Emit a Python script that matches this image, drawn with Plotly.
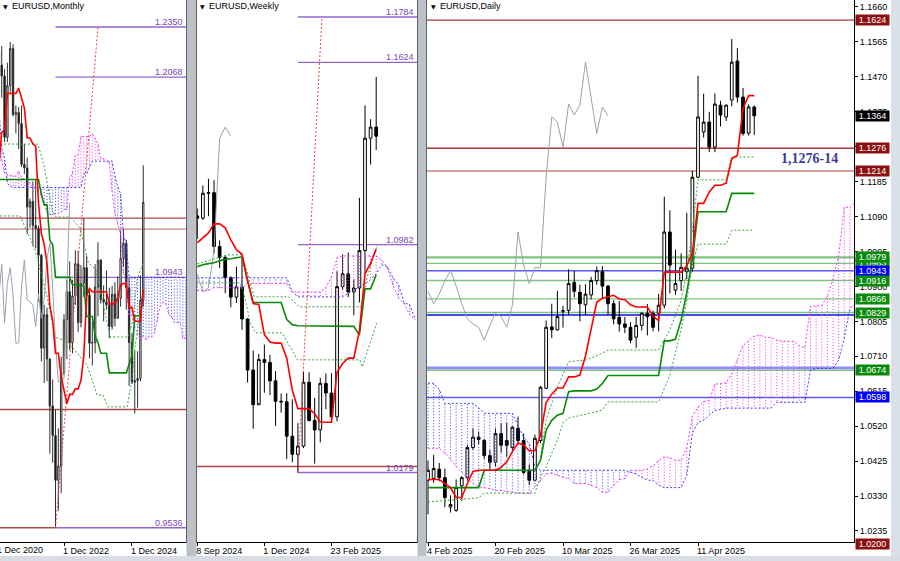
import plotly.graph_objects as go

FIG_W, FIG_H = 900, 561
PLOT_BOTTOM_PX = 542
FONT = "Liberation Sans"

# ---------------- MONTHLY (bar 0 = Jan 2021) ----------------
m_open = [1.2215,1.2136,1.2074,1.1730,1.2020,1.2229,1.1858,1.1870,1.1807,1.1578,1.1558,1.1338,
          1.1370,1.1235,1.1218,1.1067,1.0545,1.0733,1.0484,1.0220,1.0054,0.9802,0.9882,1.0405,
          1.0705,1.0863,1.0576,1.0839,1.1019,1.0689,1.0909,1.0997,1.0843,1.0573,1.0575,1.0888,
          1.1039,1.0818,1.0805,1.0789,1.0666,1.0848,1.0713,1.0825,1.1048,1.1135,1.0884,1.0577,
          1.0354,1.0362,1.0375,1.0815]
m_high = [1.2350,1.2243,1.2113,1.2150,1.2266,1.2254,1.1909,1.1900,1.1909,1.1692,1.1616,1.1386,
          1.1483,1.1495,1.1233,1.1076,1.0787,1.0773,1.0487,1.0369,1.0198,1.0094,1.0497,1.0736,
          1.0929,1.1033,1.0930,1.1095,1.1092,1.1012,1.1276,1.1065,1.0882,1.0695,1.1017,1.1140,
          1.1046,1.0898,1.0981,1.0885,1.0895,1.0916,1.0948,1.1202,1.1214,1.1154,1.0937,1.0630,
          1.0533,1.0528,1.0954,1.1573]
m_low = [1.2055,1.1952,1.1704,1.1704,1.1986,1.1847,1.1752,1.1664,1.1563,1.1524,1.1186,1.1222,
         1.1121,1.1106,1.0806,1.0471,1.0349,1.0359,0.9952,0.9901,0.9536,0.9632,0.9730,1.0393,
         1.0483,1.0533,1.0516,1.0788,1.0635,1.0662,1.0833,1.0766,1.0488,1.0448,1.0516,1.0724,
         1.0795,1.0695,1.0762,1.0601,1.0650,1.0668,1.0710,1.0778,1.1001,1.0761,1.0333,1.0343,
         1.0178,1.0210,1.0359,1.0778]
m_close = [1.2136,1.2074,1.1730,1.2020,1.2229,1.1858,1.1870,1.1807,1.1578,1.1558,1.1338,1.1370,
           1.1235,1.1218,1.1067,1.0545,1.0733,1.0484,1.0220,1.0054,0.9802,0.9882,1.0405,1.0705,
           1.0863,1.0576,1.0839,1.1019,1.0689,1.0909,1.0997,1.0843,1.0573,1.0575,1.0888,1.1039,
           1.0818,1.0805,1.0789,1.0666,1.0848,1.0713,1.0825,1.1048,1.1135,1.0884,1.0577,1.0354,
           1.0362,1.0375,1.0815,1.1364]
m_tenkan = [1.1563,1.1759,1.1768,1.1977,1.1977,1.1977,1.1977,1.2007,1.1957,1.1895,1.1726,1.1726,
            1.1694,1.1680,1.1358,1.1190,1.1129,1.1021,1.0784,1.0698,1.0516,1.0516,1.0385,1.0306,
            1.0233,1.0285,1.0285,1.0316,1.0316,1.0364,1.0503,1.0835,1.0880,1.0862,1.0862,1.0862,
            1.0862,1.0862,1.0862,1.0794,1.0794,1.0794,1.0828,1.0902,1.0908,1.0908,1.0774,1.0774,
            1.0696,1.0696,1.0696,1.0876]
m_kijun = [1.1493]*15 + [1.1411,1.1350,1.1350,1.1151,1.1126] + [1.0943]*6 + [1.0901]*4 + \
          [1.0895] + [1.0723]*3 + [1.0614,1.0576] + [1.0516]*3 + [1.0406]*7 + \
          [1.0454,1.0503,1.0727,1.0727,1.0727,1.0876]
m_span_a = [1.1647,1.1600,1.1530,1.1520,1.1515,1.1512,1.1512,1.1540,1.1500,1.1495,1.1494,1.1470,
            1.1450,1.1440,1.1431,1.1400,1.1350,1.1310,1.1295,1.1295,1.1300,1.1301,1.1310,1.1324,
            1.1324,1.1496,
            1.1528,1.1626,1.1631,1.1735,1.1735,1.1735,1.1735,1.1750,1.1725,1.1694,
            1.1610,1.1610,1.1594,1.1587,1.1426,1.1301,1.1240,1.1186,1.0968,1.0912,
            1.0730,1.0730,1.0664,1.0625,1.0588,1.0614,1.0593,1.0609,1.0609,1.0633,
            1.0699,1.0779,1.0802,1.0793,1.0738,1.0719,1.0689,1.0689,1.0689,1.0600,1.0600]
m_span_b = [1.1892,1.1668,1.1614,1.1470,1.1455] + [1.1448]*25 + [1.1525,1.1525,1.1562] + \
           [1.1596]*8 + [1.1513,1.1452,1.1413,1.1183,1.1126] + [1.0943]*21
m_green1_x = [0.4,13.8,15.9,18.8,20.2,25.1,28.7,31.5,34.3,39.3,45.6,47.4,48.8,50.9]
m_green1_y = [1.1692,1.1692,1.1574,1.1321,1.1282,1.1282,1.1220,1.1029,1.0984,1.0608,1.0608,1.0704,1.0928,1.1024]
m_green2_x = [0.4,7.5,12.8,17.3,19.8,24.4,31.1,34.7,36.8,38.5,45.3,47.0,48.1,49.1,50.6]
m_green2_y = [1.1288,1.1288,1.1097,1.0816,1.0608,1.0580,1.0451,1.0282,1.0282,1.0215,1.0215,1.0367,1.0552,1.0648,1.0816]
m_target_x = [20, 35]
m_target_y = [0.9536, 1.2350]
m_fibo_levels = [1.2350, 1.2068, 1.0943, 0.9536]
m_fibo_labels = ["1.2350", "1.2068", "1.0943", "0.9536"]
m_fibo_start = 20
m_red_levels = [1.1276, 1.1214, 1.0200]
m_tick_vals = [23, 47]
m_tick_text = ["1 Dec 2022", "1 Dec 2024"]
m_first_tick_text = "1 Dec 2020"

# ---------------- WEEKLY (bar 0 = week of 8 Sep 2024) ----------------
w_open = [1.1083,1.1075,1.1163,1.1165,1.0975,1.0937,1.0866,1.0797,1.0833,1.0720,1.0540,1.0418,
          1.0577,1.0567,1.0502,1.0430,1.0428,1.0307,1.0243,1.0272,1.0497,1.0362,1.0329,1.0493,
          1.0459,1.0375,1.0834,1.0879,1.0815,1.0829,1.0961,1.1357,1.1396]
w_high = [1.1109,1.1190,1.1214,1.1209,1.0997,1.0945,1.0870,1.0905,1.0937,1.0722,1.0609,1.0597,
          1.0630,1.0594,1.0536,1.0457,1.0458,1.0437,1.0353,1.0533,1.0532,1.0442,1.0513,1.0528,
          1.0529,1.0888,1.0947,1.0954,1.0860,1.1147,1.1473,1.1424,1.1573]
w_low = [1.1002,1.1069,1.1082,1.0951,1.0900,1.0811,1.0761,1.0777,1.0682,1.0496,1.0333,1.0424,
         1.0460,1.0452,1.0343,1.0390,1.0226,1.0215,1.0179,1.0265,1.0359,1.0210,1.0285,1.0402,
         1.0360,1.0359,1.0823,1.0797,1.0733,1.0778,1.0881,1.1264,1.1315]
w_close = [1.1075,1.1163,1.1165,1.0975,1.0937,1.0866,1.0797,1.0833,1.0720,1.0540,1.0418,1.0577,
           1.0567,1.0502,1.0430,1.0428,1.0307,1.0243,1.0272,1.0497,1.0362,1.0329,1.0493,1.0459,
           1.0375,1.0834,1.0879,1.0815,1.0829,1.0961,1.1357,1.1396,1.1364]
w_tenkan = [1.0988,1.1006,1.1023,1.1055,1.1055,1.1041,1.0999,1.0964,1.0948,1.0855,1.0774,1.0771,
            1.0665,1.0639,1.0635,1.0635,1.0582,1.0469,1.0404,1.0404,1.0404,1.0386,1.0357,1.0356,
            1.0356,1.0533,1.0563,1.0582,1.0582,1.0679,1.0879,1.0917,1.0966]
w_kijun = [1.0904,1.0911,1.0915,1.0918,1.0925,1.0930,1.0932,1.0935,1.0939,1.0855] + [1.0778]*6 + \
          [1.0718,1.0700] + [1.0696]*10 + [1.0694,1.0663,1.0826,1.0826,1.0876]
w_span_a = [1.0820]*3 + [1.0830]*6 + [1.0845]*8 + [1.0815]*6 + [1.0830,1.0869,1.0935] + \
           [1.0942]*7 + [1.0928,1.0900,1.0840,1.0795,1.0773,1.0735,1.0717]
w_span_b = [1.0865]*17 + [1.0816] + [1.0798]*9 + [1.0810,1.0823,1.0833,1.0845,1.0858,1.0880,
           1.0911,1.0904,1.0865,1.0840,1.0777,1.0770,1.0717]
w_green1_x = [0,5.5,8.0,9.1,10.2,16.4,18.2,29.3,30.4,32.2]
w_green1_y = [1.0914,1.0946,1.0946,1.0869,1.0798,1.0798,1.0763,1.0763,1.0869,1.0981]
w_green2_x = [0,7.7,8.6,9.5,10.4,15.2,17.9,29.1,29.5,32.1]
w_green2_y = [1.0847,1.0847,1.0787,1.0706,1.0671,1.0671,1.0576,1.0576,1.0551,1.0706]
w_target_x = [18, 22.3]
w_target_y = [1.0179, 1.1784]
w_fibo_levels = [1.1784, 1.1624, 1.0982, 1.0179]
w_fibo_labels = ["1.1784", "1.1624", "1.0982", "1.0179"]
w_fibo_start = 18
w_red_levels = [1.0200]
w_tick_vals = [0, 12, 24]
w_tick_text = ["8 Sep 2024", "1 Dec 2024", "23 Feb 2025"]

# ---------------- DAILY (bar 0 = 4 Feb 2025) ----------------
d_open = [1.0373,1.0378,1.0403,1.0380,1.0300,1.0291,1.0358,1.0380,1.0462,1.0490,1.0481,1.0440,
          1.0422,1.0500,1.0481,1.0462,1.0514,1.0481,1.0400,1.0373,1.0481,1.0623,1.0790,1.0782,
          1.0834,1.0835,1.0911,1.0884,1.0850,1.0877,1.0916,1.0940,1.0901,1.0853,1.0816,1.0798,
          1.0789,1.0762,1.0794,1.0827,1.0827,1.0827,1.0849,1.1048,1.0890,1.0916,1.0940,1.0950,
          1.1197,1.1320,1.1347,1.1279,1.1393,1.1361,1.1407,1.1513,1.1415,1.1317,1.1388]
d_high = [1.0427,1.0442,1.0420,1.0405,1.0332,1.0375,1.0384,1.0469,1.0514,1.0505,1.0486,1.0455,
          1.0514,1.0528,1.0529,1.0520,1.0546,1.0500,1.0416,1.0497,1.0629,1.0807,1.0853,1.0888,
          1.0847,1.0947,1.0942,1.0905,1.0906,1.0926,1.0954,1.0955,1.0904,1.0862,1.0860,1.0817,
          1.0803,1.0817,1.0830,1.0852,1.0834,1.0880,1.1144,1.1107,1.1000,1.0990,1.1100,1.1214,
          1.1473,1.1424,1.1375,1.1425,1.1405,1.1395,1.1573,1.1548,1.1440,1.1395,1.1392]
d_low = [1.0280,1.0366,1.0370,1.0300,1.0285,1.0287,1.0317,1.0372,1.0456,1.0470,1.0431,1.0402,
         1.0410,1.0448,1.0437,1.0454,1.0475,1.0390,1.0360,1.0370,1.0474,1.0621,1.0760,1.0780,
         1.0788,1.0823,1.0870,1.0805,1.0822,1.0865,1.0905,1.0868,1.0823,1.0797,1.0777,1.0773,
         1.0745,1.0733,1.0780,1.0767,1.0778,1.0778,1.0840,1.0881,1.0877,1.0888,1.0920,1.0940,
         1.1194,1.1305,1.1265,1.1265,1.1335,1.1350,1.1390,1.1400,1.1310,1.1310,1.1312]
d_close = [1.0400,1.0405,1.0380,1.0326,1.0307,1.0353,1.0380,1.0462,1.0490,1.0484,1.0440,1.0422,
           1.0500,1.0468,1.0468,1.0517,1.0481,1.0394,1.0373,1.0487,1.0626,1.0789,1.0782,1.0818,
           1.0833,1.0908,1.0887,1.0853,1.0879,1.0916,1.0943,1.0901,1.0853,1.0812,1.0798,1.0789,
           1.0754,1.0794,1.0827,1.0818,1.0789,1.0849,1.1048,1.0958,1.0908,1.0952,1.0950,1.1197,
           1.1361,1.1347,1.1279,1.1396,1.1366,1.1393,1.1510,1.1415,1.1316,1.1388,1.1364]
d_tenkan = [1.0375,1.0375,1.0375,1.0364,1.0353,1.0326,1.0326,1.0364,1.0397,1.0400,1.0400,1.0400,
            1.0400,1.0408,1.0423,1.0451,1.0474,1.0468,1.0453,1.0453,1.0495,1.0584,1.0607,1.0624,
            1.0624,1.0654,1.0654,1.0659,1.0711,1.0784,1.0857,1.0868,1.0872,1.0876,1.0866,1.0864,
            1.0850,1.0844,1.0844,1.0844,1.0819,1.0807,1.0939,1.0939,1.0939,1.0939,1.0956,1.0991,
            1.1126,1.1126,1.1157,1.1175,1.1175,1.1181,1.1247,1.1257,1.1384,1.1419,1.1419]
d_kijun = [1.0353]*10 + [1.0400]*10 + [1.0427,1.0509,1.0536,1.0550,1.0555,1.0614] + [1.0616]*4 + \
          [1.0621,1.0636] + [1.0658]*10 + [1.0752,1.0752,1.0757,1.0809,1.0883,1.0974] + \
          [1.1103]*6 + [1.1153]*5
d_span_a = [1.0460,1.0460,1.0460,1.0446,1.0430,1.0410,1.0395,1.0381,1.0364,1.0355,1.0353,1.0350,
            1.0345,1.0345,1.0342,1.0340,1.0337,1.0337,1.0337,1.0355,1.0370,1.0390,1.0392,1.0386,
            1.0381,1.0378,
            1.0364,1.0364,1.0364,1.0359,1.0353,1.0340,1.0340,1.0359,1.0375,1.0377,
            1.0400,1.0400,1.0400,1.0404,1.0412,1.0426,1.0437,1.0434,1.0427,1.0427,
            1.0461,1.0547,1.0572,1.0587,1.0590,1.0634,1.0635,1.0638,1.0664,1.0700,
            1.0739,1.0752,1.0765,1.0767,1.0762,1.0761,1.0754,1.0751,1.0751,1.0751,
            1.0739,1.0733,1.0846,1.0846,1.0848,1.0874,1.0920,1.0983,1.1115,1.1115,1.1130]
d_span_b = [1.0637,1.0637,1.0620] + [1.0582]*6 + [1.0570] + [1.0555]*6 + [1.0522,1.0490,1.0473,1.0410] + \
           [1.0400]*16 + [1.0395,1.0390,1.0381,1.0373,1.0373,1.0360] + [1.0353]*4 + \
           [1.0386,1.0501,1.0530,1.0536,1.0550,1.0563,1.0565] + [1.0569]*9 + [1.0585]*6 + \
           [1.0672] + [1.0677]*4 + [1.0700,1.0760,1.0840,1.0854]
d_green1_x = [20,21,23,25,28,29,31,32,41,43,45,46,47,48,53,54,58]
d_green1_y = [1.0436,1.0537,1.0627,1.0695,1.0700,1.0705,1.0719,1.0727,1.0727,1.0782,1.0863,1.0939,
              1.1054,1.1190,1.1190,1.1252,1.1252]
d_green2_x = [0,9,10,19,20,21,22,23,24,25,29,31,32,41,43,45,46,47,48,53,54,58]
d_green2_y = [1.0314,1.0325,1.0338,1.0338,1.0382,1.0409,1.0447,1.0482,1.0529,1.0542,1.0556,1.0564,
              1.0586,1.0586,1.0659,1.0782,1.0863,1.0958,1.1015,1.1015,1.1053,1.1053]
d_tick_vals = [0, 12, 24, 36, 48]
d_tick_text = ["4 Feb 2025", "20 Feb 2025", "10 Mar 2025", "26 Mar 2025", "11 Apr 2025"]
d_price_ticks = [1.0235,1.0330,1.0425,1.0520,1.0615,1.0710,1.0805,1.0900,1.0995,1.1090,
                 1.1185,1.1280,1.1375,1.1470,1.1565,1.1660]
d_price_text = ["1.0235","1.0330","1.0425","1.0520","1.0615","1.0710","1.0805","1.0900","1.0995",
                "1.1090","1.1185","1.1280","1.1375","1.1470","1.1565","1.1660"]
# horizontal levels: value, colour, width
d_level_values = [1.1624, 1.1276, 1.1214, 1.0979, 1.0963, 1.0943, 1.0916, 1.0866, 1.0829, 1.0822,
                  1.0678, 1.0672, 1.0598]
d_level_colors = ["#a33a3a", "#a33a3a", "#c98080", "#7cc47c", "#7cc47c", "#5a5aee", "#7cc47c",
                  "#7cc47c", "#7cc47c", "#4a4af0", "#8e8ef6", "#7cc47c", "#5a5af0"]
d_level_widths = [1.2, 1.5, 1.5, 2.2, 1.2, 1.5, 1.5, 1.2, 1.5, 2, 3, 1.2, 1.5]
# price tags on the right axis
d_tag_values = [1.0963, 1.0979, 1.0943, 1.0916, 1.0866, 1.0829, 1.0674, 1.0598, 1.1624, 1.1364,
                1.1276, 1.1214, 1.0200]
d_tag_text = ["1.0963", "1.0979", "1.0943", "1.0916", "1.0866", "1.0829", "1.0674", "1.0598",
              "1.1624", "1.1364", "1.1276", "1.1214", "1.0200"]
d_tag_colors = ["#0a8a0a", "#0a8a0a", "#0000ff", "#0a8a0a", "#0a8a0a", "#0a8a0a", "#0a8a0a",
                "#0000ff", "#8b1010", "#000000", "#8b1010", "#8b1010", "#8b1010"]
d_zone_text = "1,1276-14"
d_zone_price = 1.1247

# ---------------- layout geometry ----------------
def fx(p):
    return p / FIG_W

def fy(p):
    return 1 - p / FIG_H

Y_DOM = [fy(PLOT_BOTTOM_PX), 1.0]
panels = {
    "m": dict(xa="x", ya="y", dom=[fx(0), fx(186)], xr=[0.39, 66.1], yr=[0.94556, 1.25017]),
    "w": dict(xa="x2", ya="y2", dom=[fx(197), fx(417)], xr=[-0.05, 39.3], yr=[0.99341, 1.18439]),
    "d": dict(xa="x3", ya="y3", dom=[fx(427), fx(854)], xr=[-0.18, 75.73], yr=[1.0205, 1.1679]),
}


def d_price_to_paper(v):
    lo, hi = panels["d"]["yr"]
    return Y_DOM[0] + (v - lo) / (hi - lo) * (Y_DOM[1] - Y_DOM[0])


PINK = "#f03cf0"
BLUE = "#3c3cff"
fig = go.Figure()


def add_cloud(p, a, b):
    xs = list(range(len(a)))
    px_, py_, bx_, by_ = [], [], [], []
    for x, va, vb in zip(xs, a, b):
        if va >= vb:
            px_ += [x, x, None]
            py_ += [va, vb, None]
        else:
            bx_ += [x, x, None]
            by_ += [va, vb, None]
    common = dict(xaxis=p["xa"], yaxis=p["ya"], mode="lines", hoverinfo="skip", showlegend=False)
    fig.add_trace(go.Scatter(x=px_, y=py_, line=dict(color=PINK, width=1, dash="1px,2px"), **common))
    fig.add_trace(go.Scatter(x=bx_, y=by_, line=dict(color=BLUE, width=1, dash="1px,2px"), **common))
    fig.add_trace(go.Scatter(x=xs, y=a, line=dict(color=PINK, width=1, dash="2px,2px"), **common))
    fig.add_trace(go.Scatter(x=xs, y=b, line=dict(color=BLUE, width=1, dash="2px,2px"), **common))


def add_line(p, x, y, color, width, dash="solid"):
    fig.add_trace(go.Scatter(x=x, y=y, xaxis=p["xa"], yaxis=p["ya"], mode="lines",
                             line=dict(color=color, width=width, dash=dash),
                             hoverinfo="skip", showlegend=False))


def add_candles(p, o, h, l, c, lc):
    fig.add_trace(go.Candlestick(
        x=list(range(len(o))), open=o, high=h, low=l, close=c, xaxis=p["xa"], yaxis=p["ya"],
        increasing=dict(line=dict(color=lc, width=1), fillcolor="white"),
        decreasing=dict(line=dict(color=lc, width=1), fillcolor="black"),
        whiskerwidth=0, hoverinfo="skip", showlegend=False))


def add_panel(p, o, h, l, c, ten, kij, sa, sb, g1x, g1y, g2x, g2y, candle_col, target=None):
    add_cloud(p, sa, sb)
    n = len(c)
    chik_x = [i - 26 for i in range(26, n)]
    add_line(p, chik_x, c[26:], "#9aa3ad", 1)
    add_line(p, g1x, g1y, "#3aa53a", 1, "2px,2px")
    add_line(p, g2x, g2y, "#3aa53a", 1, "2px,2px")
    if target:
        add_line(p, target[0], target[1], "#ff3a3a", 1, "2px,2px")
    add_candles(p, o, h, l, c, candle_col)
    add_line(p, list(range(len(kij))), kij, "#078a07", 1.6)
    add_line(p, list(range(len(ten))), ten, "#ff0000", 1.6)


add_panel(panels["m"], m_open, m_high, m_low, m_close, m_tenkan, m_kijun, m_span_a, m_span_b,
          m_green1_x, m_green1_y, m_green2_x, m_green2_y, "#303030", (m_target_x, m_target_y))
add_panel(panels["w"], w_open, w_high, w_low, w_close, w_tenkan, w_kijun, w_span_a, w_span_b,
          w_green1_x, w_green1_y, w_green2_x, w_green2_y, "#000000", (w_target_x, w_target_y))
add_panel(panels["d"], d_open, d_high, d_low, d_close, d_tenkan, d_kijun, d_span_a, d_span_b,
          d_green1_x, d_green1_y, d_green2_x, d_green2_y, "#000000")

shapes = []
annotations = []
RED = "#b04848"
RED_LIGHT = "#c98080"
PURPLE = "#9466cc"
PURPLE_TXT = "#7b45b5"

# monthly levels
for v in m_red_levels:
    shapes.append(dict(type="line", xref="x domain", yref="y", x0=0, x1=1, y0=v, y1=v,
                       line=dict(color=RED_LIGHT if v == 1.1214 else RED, width=1.4), layer="below"))
shapes.append(dict(type="line", xref="x", yref="y", x0=panels["m"]["xr"][0], x1=m_fibo_start,
                   y0=m_fibo_levels[-1], y1=m_fibo_levels[-1], line=dict(color=RED, width=1.4), layer="below"))
for v, t in zip(m_fibo_levels, m_fibo_labels):
    shapes.append(dict(type="line", xref="x", yref="y", x0=m_fibo_start, x1=panels["m"]["xr"][1],
                       y0=v, y1=v, line=dict(color=PURPLE, width=1.4), layer="below"))
    annotations.append(dict(xref="paper", yref="y", x=fx(185), y=v, text=t, showarrow=False,
                            xanchor="right", yanchor="bottom", yshift=-2,
                            font=dict(family=FONT, size=9, color=PURPLE_TXT)))

# weekly levels
for v in w_red_levels:
    shapes.append(dict(type="line", xref="x2 domain", yref="y2", x0=0, x1=1, y0=v, y1=v,
                       line=dict(color=RED, width=1.4), layer="below"))
for v, t in zip(w_fibo_levels, w_fibo_labels):
    shapes.append(dict(type="line", xref="x2", yref="y2", x0=w_fibo_start, x1=panels["w"]["xr"][1],
                       y0=v, y1=v, line=dict(color=PURPLE, width=1.4), layer="below"))
    annotations.append(dict(xref="paper", yref="y2", x=fx(416), y=v, text=t, showarrow=False,
                            xanchor="right", yanchor="bottom", yshift=-2,
                            font=dict(family=FONT, size=9, color=PURPLE_TXT)))

# daily levels
for v, col, wdt in zip(d_level_values, d_level_colors, d_level_widths):
    shapes.append(dict(type="line", xref="x3 domain", yref="y3", x0=0, x1=1, y0=v, y1=v,
                       line=dict(color=col, width=wdt), layer="below"))
for v, t, col in zip(d_tag_values, d_tag_text, d_tag_colors):
    annotations.append(dict(xref="paper", yref="paper", x=fx(855), y=d_price_to_paper(v), text=t,
                            showarrow=False, xanchor="left", yanchor="middle", width=31, height=8,
                            borderpad=1, bgcolor=col, align="center",
                            font=dict(family=FONT, size=9, color="white")))
annotations.append(dict(xref="paper", yref="y3", x=fx(809), y=d_zone_price,
                        text="<b>" + d_zone_text + "</b>", showarrow=False,
                        xanchor="center", yanchor="middle",
                        font=dict(family="Liberation Serif", size=14, color="#3a3a96")))

# panel titles
for xp, name in [(0, "EURUSD,Monthly"), (197, "EURUSD,Weekly"), (428, "EURUSD,Daily")]:
    annotations.append(dict(xref="paper", yref="paper", x=fx(xp + 1), y=fy(6), text="▼",
                            showarrow=False, xanchor="left", yanchor="middle",
                            font=dict(family="DejaVu Sans", size=6, color="black")))
    annotations.append(dict(xref="paper", yref="paper", x=fx(xp + 10), y=fy(6), text=name,
                            showarrow=False, xanchor="left", yanchor="middle",
                            font=dict(family=FONT, size=9, color="black")))

# first (partly hidden) monthly date label, left of the visible range
annotations.append(dict(xref="paper", yref="paper", x=fx(-5), y=fy(550), text=m_first_tick_text,
                        showarrow=False, xanchor="left", yanchor="middle",
                        font=dict(family=FONT, size=9, color="black")))

# window frame pieces
FRAME = "#bcc1c8"
for x0, x1 in [(186.5, 196.5), (417.5, 426.5)]:
    shapes.append(dict(type="rect", xref="paper", yref="paper", x0=fx(x0), x1=fx(x1), y0=0, y1=1,
                       fillcolor=FRAME, line=dict(width=0), layer="above"))
shapes.append(dict(type="rect", xref="paper", yref="paper", x0=fx(891), x1=1, y0=0, y1=1,
                   fillcolor="#d9e0e8", line=dict(width=0), layer="above"))
shapes.append(dict(type="rect", xref="paper", yref="paper", x0=0, x1=1, y0=0, y1=fy(556),
                   fillcolor="#d9dde3", line=dict(width=0), layer="above"))

axis_common = dict(showgrid=False, zeroline=False, showline=True, linecolor="black", linewidth=1,
                   fixedrange=True, automargin=False)
layout = dict(
    width=FIG_W, height=FIG_H, margin=dict(l=0, r=0, t=0, b=0, pad=0),
    paper_bgcolor="white", plot_bgcolor="white", showlegend=False,
    shapes=shapes, annotations=annotations,
)
for key, p, tv, tt in [("m", panels["m"], m_tick_vals, m_tick_text),
                       ("w", panels["w"], w_tick_vals, w_tick_text),
                       ("d", panels["d"], d_tick_vals, d_tick_text)]:
    xname = "xaxis" if p["xa"] == "x" else "xaxis" + p["xa"][1:]
    yname = "yaxis" if p["ya"] == "y" else "yaxis" + p["ya"][1:]
    layout[xname] = dict(domain=p["dom"], range=p["xr"], anchor=p["ya"], tickmode="array",
                         tickvals=tv, ticktext=tt, ticks="outside", ticklen=3, tickcolor="black",
                         ticklabelposition="outside right", ticklabelshift=-2,
                         tickfont=dict(family=FONT, size=9, color="black"),
                         rangeslider=dict(visible=False), **axis_common)
    ydict = dict(domain=Y_DOM, range=p["yr"], anchor=p["xa"], mirror=True, **axis_common)
    if key == "d":
        ydict.update(side="right", tickmode="array", tickvals=d_price_ticks, ticktext=d_price_text,
                     ticks="outside", ticklen=3, tickcolor="black",
                     tickfont=dict(family=FONT, size=9, color="black"))
    else:
        ydict.update(showticklabels=False, ticks="")
    layout[yname] = ydict

fig.update_layout(**layout)
fig.write_html("out.html", config={"displayModeBar": False},
               post_script="document.body.style.margin='0px';document.body.style.overflow='hidden';")
